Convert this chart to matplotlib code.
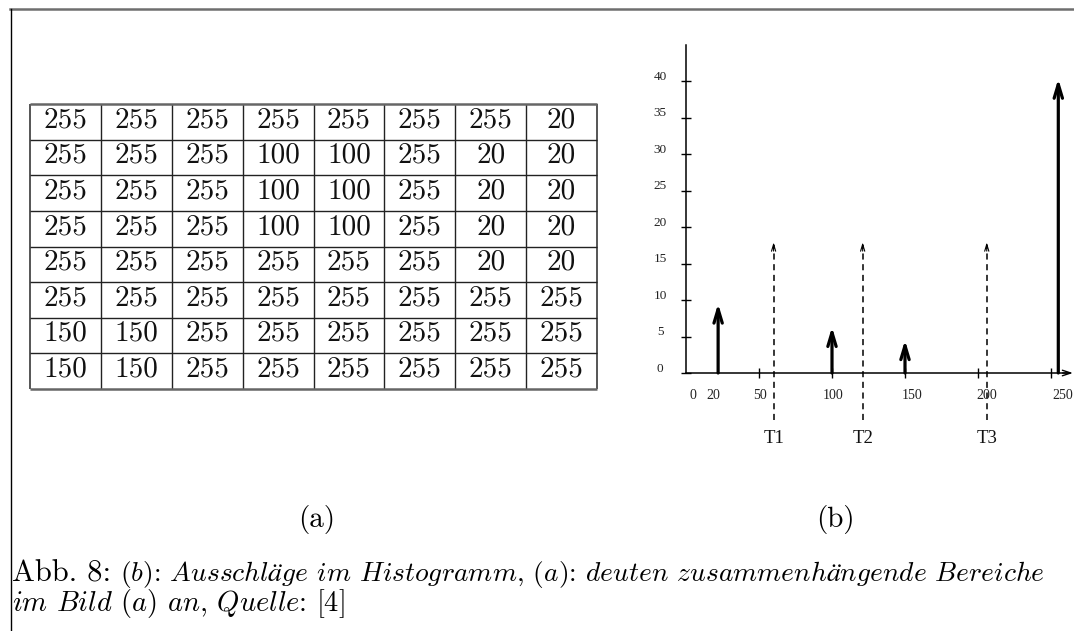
import matplotlib
matplotlib.use("Agg")
import re
import matplotlib.pyplot as plt
from matplotlib.lines import Line2D

plt.rcParams['mathtext.fontset'] = 'cm'
plt.rcParams['font.family'] = ['cmr10', 'DejaVu Serif']
plt.rcParams['axes.unicode_minus'] = False

# ---------------- data ----------------
table_values = [
    [255, 255, 255, 255, 255, 255, 255, 20],
    [255, 255, 255, 100, 100, 255, 20, 20],
    [255, 255, 255, 100, 100, 255, 20, 20],
    [255, 255, 255, 100, 100, 255, 20, 20],
    [255, 255, 255, 255, 255, 255, 20, 20],
    [255, 255, 255, 255, 255, 255, 255, 255],
    [150, 150, 255, 255, 255, 255, 255, 255],
    [150, 150, 255, 255, 255, 255, 255, 255],
]
peak_gray = [22, 100, 150, 255]
peak_count = [9.5, 6.3, 4.5, 40.3]
thresholds = [60, 121, 206]
threshold_labels = ["T1", "T2", "T3"]
threshold_top = 17.9
threshold_bottom = -6.4
y_ticks = [0, 5, 10, 15, 20, 25, 30, 35, 40]
x_ticks = [50, 100, 150, 200, 250]
x_labels = ["0", "20", "50", "100", "150", "200", "250"]
x_label_pos = [5, 19, 51, 101, 155, 206, 258]
caption_head = "Abb. 8:"
caption_line1 = "(b): Ausschläge im Histogramm, (a): deuten zusammenhängende Bereiche"
caption_line2 = "im Bild (a) an, Quelle: [4]"

W, H = 1074, 631
fig = plt.figure(figsize=(W / 100, H / 100), dpi=100)
fig.patch.set_facecolor('white')

# frame lines of the scanned page
fig.add_artist(Line2D([10 / W, 1], [1 - 8.5 / H] * 2, transform=fig.transFigure,
                      color='#6e6e6e', lw=1.8))
fig.add_artist(Line2D([10.5 / W] * 2, [0, 1 - 8.5 / H], transform=fig.transFigure,
                      color='black', lw=1.0))

# ---------------- table (a) ----------------
tl, tr, tt, tb = 30, 597, 104, 389
axt = fig.add_axes([tl / W, 1 - tb / H, (tr - tl) / W, (tb - tt) / H])
nrows, ncols = len(table_values), len(table_values[0])
axt.set_xlim(0, ncols)
axt.set_ylim(nrows, 0)
axt.axis('off')
for i in range(ncols + 1):
    outer = i in (0, ncols)
    axt.plot([i, i], [0, nrows], color='#555555' if outer else '#222222',
             lw=1.4 if outer else 1.0, clip_on=False, solid_capstyle='butt')
for j in range(nrows + 1):
    outer = j in (0, nrows)
    axt.plot([0, ncols], [j, j], color='#666666' if outer else '#222222',
             lw=1.8 if outer else 1.0, clip_on=False, solid_capstyle='butt')
for r, row in enumerate(table_values):
    for c, v in enumerate(row):
        axt.text(c + 0.5, r + 0.45, str(v), ha='center', va='center',
                 fontfamily='cmr10', fontsize=21, color='#111111')

# ---------------- histogram (b) ----------------
x0, sx = 686, 1.46   # px of value 0, px per gray level
y0, sy = 373, 7.3    # px of count 0, px per count
al, ar, at, ab = 630, 1074, 30, 470
axh = fig.add_axes([al / W, 1 - ab / H, (ar - al) / W, (ab - at) / H])
axh.set_xlim((al - x0) / sx, (ar - x0) / sx)
axh.set_ylim((y0 - ab) / sy, (y0 - at) / sy)
axh.patch.set_alpha(0)
for s in ('top', 'right'):
    axh.spines[s].set_visible(False)
axh.spines['left'].set_position(('data', 0))
axh.spines['bottom'].set_position(('data', 0))
axh.spines['left'].set_bounds(0, 45)
axh.spines['bottom'].set_bounds(0, 262)
for s in ('left', 'bottom'):
    axh.spines[s].set_linewidth(1.1)
axh.set_yticks(y_ticks)
axh.set_xticks(x_ticks)
axh.tick_params(direction='inout', length=7.5, width=1.0,
                labelleft=False, labelbottom=False)
# x-axis arrow head
axh.annotate('', xy=(265, 0), xytext=(258, 0),
             arrowprops=dict(arrowstyle='->,head_length=0.6,head_width=0.2',
                             lw=1.0, color='black', shrinkA=0, shrinkB=0))

serif = ['Liberation Serif', 'DejaVu Serif']
for v in y_ticks:
    axh.text((660 - x0) / sx, v + 0.6, str(v), ha='center', va='center',
             fontfamily=serif, fontsize=9.5, color='#222222')
for lab, pos in zip(x_labels, x_label_pos):
    axh.text(pos, -3.1, lab, ha='center', va='center',
             fontfamily=serif, fontsize=10, color='#222222')

# histogram peaks
for g, n in zip(peak_gray, peak_count):
    axh.annotate('', xy=(g, n), xytext=(g, 0),
                 arrowprops=dict(arrowstyle='->,head_length=1.0,head_width=0.3',
                                 lw=2.3, color='black', shrinkA=0, shrinkB=0))

# thresholds
for t, lab in zip(thresholds, threshold_labels):
    axh.plot([t, t], [threshold_bottom, threshold_top - 0.4], color='black',
             lw=1.1, dashes=(4, 3))
    axh.annotate('', xy=(t, threshold_top), xytext=(t, threshold_top - 1.2),
                 arrowprops=dict(arrowstyle='->,head_length=0.5,head_width=0.15',
                                 lw=0.8, color='black', shrinkA=0, shrinkB=0))
    axh.text(t, -9.0, lab, ha='center', va='center', fontfamily=serif,
             fontsize=13.5, color='#111111')

# ---------------- sub labels and caption ----------------
fig.text(317 / W, 1 - 520 / H, "(a)", ha='center', va='center',
         fontfamily='cmr10', fontsize=21)
fig.text(835 / W, 1 - 520 / H, "(b)", ha='center', va='center',
         fontfamily='cmr10', fontsize=21)


def as_italic(s):
    # letters in math italic, punctuation / digits / spaces upright text
    return re.sub(r"([^\W\d_]+)", lambda m: r"$\mathit{" + m.group(1) + "}$", s)


fig.text(12 / W, 1 - 574 / H, caption_head, ha='left', va='center', fontsize=22)
fig.text(120 / W, 1 - 574 / H, as_italic(caption_line1),
         ha='left', va='center', fontsize=19.8)
fig.text(12 / W, 1 - 604 / H, as_italic(caption_line2),
         ha='left', va='center', fontsize=20.5)

fig.savefig("out.png", dpi=100, facecolor='white')
